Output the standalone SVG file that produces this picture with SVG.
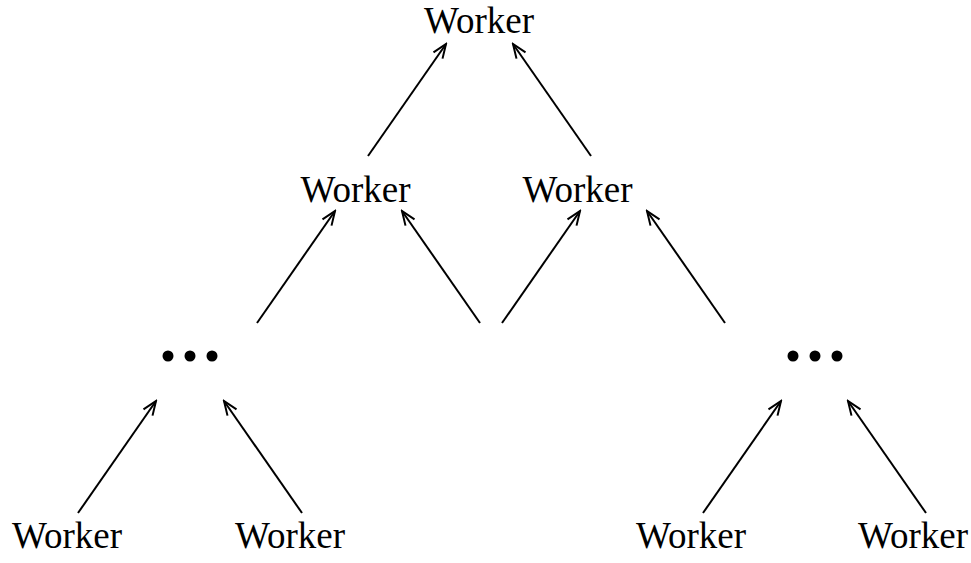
<svg xmlns="http://www.w3.org/2000/svg" width="971" height="563" viewBox="0 0 971 563">
<style>
text{font-family:"Liberation Serif","Times New Roman",serif;font-size:37px;fill:#000;text-anchor:middle}
.c line{stroke:#000;stroke-width:2;fill:none;marker-end:url(#ah)}
.d circle{fill:#000}
</style>
<defs>
<marker id="ah" markerUnits="userSpaceOnUse" viewBox="-16 -8 18 16" refX="0" refY="0" markerWidth="18" markerHeight="16" orient="auto">
<path d="M-14,-5.5 L0,0 L-14,5.5" fill="none" stroke="#000" stroke-width="2"/>
</marker>
</defs>
<rect width="971" height="563" fill="#fff"/>
<g id="n-top"><text x="479" y="33">Worker</text></g>
<g id="n-mid-left"><text x="355.5" y="202">Worker</text></g>
<g id="n-mid-right"><text x="577.5" y="202">Worker</text></g>
<g id="n-dots-left" class="d"><circle cx="168" cy="356" r="5.5"/><circle cx="190" cy="356" r="5.5"/><circle cx="212" cy="356" r="5.5"/></g>
<g id="n-dots-right" class="d"><circle cx="793" cy="356" r="5.5"/><circle cx="815" cy="356" r="5.5"/><circle cx="837" cy="356" r="5.5"/></g>
<g id="n-b1"><text x="67" y="548">Worker</text></g>
<g id="n-b2"><text x="290" y="548">Worker</text></g>
<g id="n-b3"><text x="691" y="548">Worker</text></g>
<g id="n-b4"><text x="913" y="548">Worker</text></g>
<g id="connectors" class="c">
<line x1="368" y1="156" x2="446" y2="44"/>
<line x1="591" y1="156" x2="513" y2="44"/>
<line x1="257" y1="323" x2="335" y2="211"/>
<line x1="480" y1="323" x2="402" y2="211"/>
<line x1="502" y1="323" x2="580" y2="211"/>
<line x1="725" y1="323" x2="647" y2="211"/>
<line x1="78" y1="513" x2="156" y2="401"/>
<line x1="302" y1="513" x2="224" y2="401"/>
<line x1="703" y1="513" x2="781" y2="401"/>
<line x1="926" y1="513" x2="848" y2="401"/>
</g>
</svg>
